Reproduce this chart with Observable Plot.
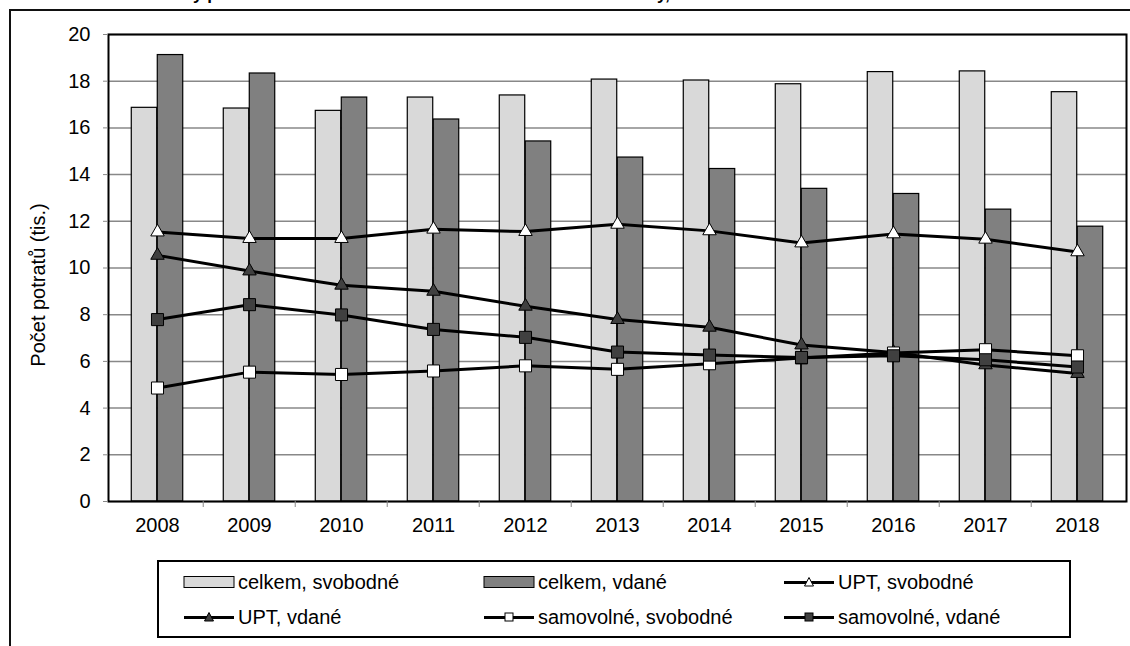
<!DOCTYPE html>
<html><head><meta charset="utf-8">
<script src="https://cdn.jsdelivr.net/npm/d3@7"></script>
<script src="https://cdn.jsdelivr.net/npm/@observablehq/plot@0.6"></script>
<style>
body{margin:0;background:#fff;font-family:Arial,"Liberation Sans",sans-serif;}
#wrap{position:relative;width:1130px;height:646px;overflow:hidden;background:#fff}
#frame{position:absolute;left:9px;top:9px;width:1300px;height:800px;border:2px solid #111;}
#titlebox{position:absolute;left:0;top:0;width:1130px;height:6px;overflow:hidden}
#title{position:absolute;left:144px;top:-14.5px;font-weight:bold;font-size:17px;line-height:17px;white-space:nowrap;color:#000}
#chart{position:absolute;left:0;top:0}
#ylabel{position:absolute;left:38px;top:285px;transform:translate(-50%,-50%) rotate(-90deg);font-size:20px;white-space:nowrap;color:#000}
#legend{position:absolute;left:157px;top:560px;width:910px;height:74px;border:2px solid #000;background:#fff}
.item{position:absolute;display:flex;align-items:center;font-size:20px;white-space:nowrap;color:#000;height:24px}
.item svg{margin-right:2px}
</style>
</head><body>
<div id="wrap">
  <div id="frame"></div>
  <div id="titlebox"><div id="title">Potraty podle rodinného stavu a druhu – vdané a svobodné ženy, 2008–2018</div></div>
  <div id="chart"></div>
  <div id="ylabel">Počet potratů (tis.)</div>
  <div id="legend"></div>
</div>
<script>
const years = [2008, 2009, 2010, 2011, 2012, 2013, 2014, 2015, 2016, 2017, 2018];
const celkemSvobodne = [16.86, 16.83, 16.73, 17.30, 17.39, 18.07, 18.03, 17.87, 18.39, 18.42, 17.53];
const celkemVdane    = [19.12, 18.33, 17.30, 16.36, 15.42, 14.73, 14.24, 13.39, 13.17, 12.50, 11.77];
const uptSvobodne    = [11.54, 11.26, 11.26, 11.66, 11.56, 11.87, 11.59, 11.07, 11.46, 11.23, 10.69];
const uptVdane       = [10.54, 9.87, 9.26, 9.00, 8.36, 7.79, 7.46, 6.70, 6.38, 5.85, 5.48];
const samSvobodne    = [4.86, 5.54, 5.44, 5.59, 5.81, 5.66, 5.90, 6.15, 6.36, 6.50, 6.24];
const samVdane       = [7.79, 8.43, 7.99, 7.37, 7.03, 6.40, 6.27, 6.17, 6.24, 6.07, 5.76];
const yTicks = [0, 2, 4, 6, 8, 10, 12, 14, 16, 18, 20];
const seriesNames = ["celkem, svobodné", "celkem, vdané", "UPT, svobodné", "UPT, vdané", "samovolné, svobodné", "samovolné, vdané"];

const toRows = (vals) => years.map((year, i) => ({year, value: vals[i]}));

const W = 1130, H = 540, mL = 108, mR = 4, mT = 34, mB = 39;
const bw = (W - mL - mR) / years.length;
const barW = 26;
const outer = bw / 2 - barW;
const half = bw / 2;

const LIGHT = "#d9d9d9", DARK = "#808080", MARK = "#404040";

const lineSeries = [
  {vals: uptSvobodne, symbol: "triangle", fill: "#fff", r: 5},
  {vals: uptVdane, symbol: "triangle", fill: MARK, r: 5},
  {vals: samSvobodne, symbol: "square", fill: "#fff", r: 6.8},
  {vals: samVdane, symbol: "square", fill: MARK, r: 6.8}
];

const marks = [
  Plot.gridY(yTicks, {stroke: "#888", strokeOpacity: 1, strokeWidth: 1.5}),
  Plot.barY(toRows(celkemSvobodne), {x: "year", y: "value", fill: LIGHT, stroke: "#000", strokeWidth: 1.2, insetLeft: outer, insetRight: half}),
  Plot.barY(toRows(celkemVdane), {x: "year", y: "value", fill: DARK, stroke: "#000", strokeWidth: 1.2, insetLeft: half, insetRight: outer}),
  Plot.frame({stroke: "#000", strokeWidth: 2}),
  Plot.axisY(yTicks, {tickSize: 5, tickPadding: 13, stroke: "#888", fill: "#000", fontSize: 20, label: null}),
  Plot.axisX(years, {tickSize: 0, tickPadding: 16, fill: "#000", fontSize: 20, label: null, tickFormat: d => String(d)}),
  Plot.axisX(years.slice(1), {tickSize: 6, tickFormat: () => "", stroke: "#888", dx: -bw / 2, label: null})
];
for (const s of lineSeries) {
  marks.push(Plot.line(toRows(s.vals), {x: "year", y: "value", stroke: "#000", strokeWidth: 3}));
  marks.push(Plot.dot(toRows(s.vals), {x: "year", y: "value", symbol: s.symbol, r: s.r, fill: s.fill, stroke: "#000", strokeWidth: 1}));
}

const chart = Plot.plot({
  width: W, height: H,
  marginLeft: mL, marginRight: mR, marginTop: mT, marginBottom: mB,
  style: {fontFamily: "Arial, 'Liberation Sans', sans-serif", fontSize: "20px", color: "#000", background: "transparent", overflow: "visible"},
  x: {type: "band", domain: years, padding: 0, axis: null},
  y: {domain: [0, 20], axis: null},
  marks
});
document.getElementById("chart").appendChild(chart);

// legend
const legend = document.getElementById("legend");
const legendDefs = [
  {kind: "bar", fill: LIGHT},
  {kind: "bar", fill: DARK},
  {kind: "line", symbol: "tri", fill: "#fff"},
  {kind: "line", symbol: "tri", fill: MARK},
  {kind: "line", symbol: "sq", fill: "#fff"},
  {kind: "line", symbol: "sq", fill: MARK}
];
const colX = [24, 324, 624];
const rowY = [8, 43];
legendDefs.forEach((d, i) => {
  const el = document.createElement("div");
  el.className = "item";
  el.style.left = colX[i % 3] + "px";
  el.style.top = rowY[Math.floor(i / 3)] + "px";
  let svg;
  if (d.kind === "bar") {
    svg = `<svg width="53" height="14"><rect x="1" y="1.5" width="50" height="11" fill="${d.fill}" stroke="#000" stroke-width="1"/></svg>`;
  } else {
    const m = d.symbol === "tri"
      ? `<path d="M26,2.5 L30.5,11 L21.5,11 Z" fill="${d.fill}" stroke="#000" stroke-width="1"/>`
      : `<rect x="22" y="3" width="8" height="8" fill="${d.fill}" stroke="#000" stroke-width="1"/>`;
    svg = `<svg width="53" height="14"><line x1="1" x2="51" y1="7.5" y2="7.5" stroke="#000" stroke-width="3"/>${m}</svg>`;
  }
  el.innerHTML = svg + `<span>${seriesNames[i]}</span>`;
  legend.appendChild(el);
});
</script>
</body></html>
